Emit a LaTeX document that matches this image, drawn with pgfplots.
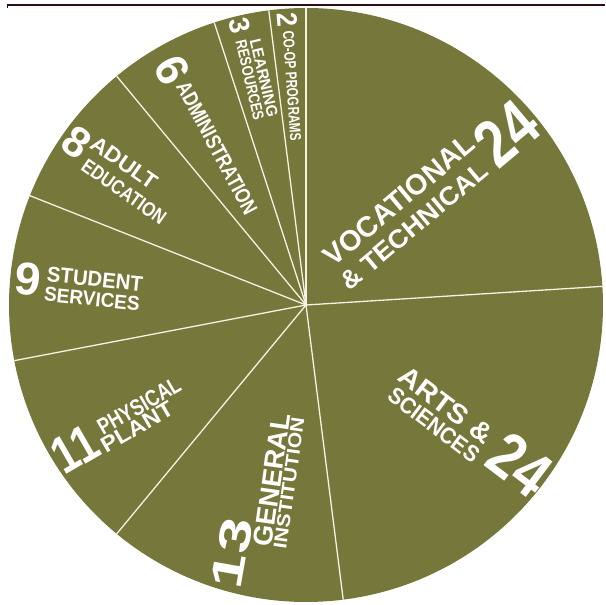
\documentclass[border=0pt]{standalone}
\usepackage{pgfplots}
\pgfplotsset{compat=1.18}
\usepackage{pgfplotstable}
\usepackage{graphicx}
\usepackage{fontspec}
\setmainfont{Liberation Sans}
\definecolor{pieolive}{HTML}{75773B}
\definecolor{sepline}{HTML}{F4F2E2}
\definecolor{topline}{HTML}{2E0E0E}
\newcommand\lbl[3]{\resizebox{#1pt}{#2pt}{\bfseries #3}}

\pgfplotstableread{
label value
Vocational 24
Arts 24
General 13
Physical 11
Student 9
Adult 8
Admin 6
Learning 3
Coop 2
}\piedata

\begin{document}
\begin{tikzpicture}
\begin{axis}[x=1pt,y=1pt,xmin=0,xmax=605,ymin=0,ymax=605,hide axis,clip=false,
  at={(0,0)},anchor=south west,scale only axis]
\def\cx{306}\def\cy{300}\def\R{297}
\pgfplotstablegetrowsof{\piedata}
\pgfmathtruncatemacro\nrows{\pgfplotsretval-1}
% wedges
\def\cum{0}
\pgfplotsforeachungrouped \i in {0,...,\nrows}{%
  \pgfplotstablegetelem{\i}{value}\of\piedata
  \pgfmathsetmacro\sa{90-3.6*\cum}%
  \pgfmathsetmacro\newcum{\cum+\pgfplotsretval}%
  \pgfmathsetmacro\ea{90-3.6*\newcum}%
  \let\cum\newcum
  \edef\temp{\noexpand\fill[pieolive] (axis cs:\cx,\cy) -- ++(\sa:\R pt) arc[start angle=\sa, end angle=\ea, radius=\R pt] -- cycle;}%
  \temp
}
% separators
\def\cum{0}
\pgfplotsforeachungrouped \i in {0,...,\nrows}{%
  \pgfplotstablegetelem{\i}{value}\of\piedata
  \pgfmathsetmacro\sa{90-3.6*\cum}%
  \pgfmathsetmacro\newcum{\cum+\pgfplotsretval}%
  \let\cum\newcum
  \edef\temp{\noexpand\draw[sepline,line width=1.3pt] (axis cs:\cx,\cy) -- ++(\sa:\R pt);}%
  \temp
}
% top rule
\draw[topline,line width=1.8pt] (axis cs:7,600) -- (axis cs:605,600);
\draw[topline,line width=0.8pt] (axis cs:7.4,601) -- (axis cs:7.4,597);
% labels
\begin{scope}[every node/.style={text=white,inner sep=0pt}]
\node[rotate=40] at (axis cs:399,405) {\lbl{188}{20}{VOCATIONAL}};
\node[rotate=40] at (axis cs:414,379) {\lbl{183}{18}{\& TECHNICAL}};
\node[rotate=40] at (axis cs:506,472) {\lbl{60}{47}{24}};
\node[rotate=-37] at (axis cs:446,200) {\lbl{110}{19}{ARTS \&}};
\node[rotate=-37] at (axis cs:434,180) {\lbl{108}{16}{SCIENCES}};
\node[rotate=-37] at (axis cs:520,140) {\lbl{60}{45}{24}};
\node[rotate=80] at (axis cs:232,52) {\lbl{70}{31}{13}};
\node[rotate=82] at (axis cs:272,125) {\lbl{134}{19}{GENERAL}};
\node[rotate=82] at (axis cs:289,122) {\lbl{132}{13}{INSTITUTION}};
\node[rotate=30] at (axis cs:75,156) {\lbl{44}{36}{11}};
\node[rotate=30] at (axis cs:139,199) {\lbl{92}{16}{PHYSICAL}};
\node[rotate=30] at (axis cs:137,178) {\lbl{80}{15}{PLANT}};
\node[rotate=-6] at (axis cs:28,326) {\lbl{26}{32}{9}};
\node[rotate=-6] at (axis cs:95,326) {\lbl{96}{15}{STUDENT}};
\node[rotate=-6] at (axis cs:92,306) {\lbl{96}{14}{SERVICES}};
\node[rotate=-35] at (axis cs:77,463) {\lbl{24}{30}{8}};
\node[rotate=-35] at (axis cs:124,442) {\lbl{76}{15}{ADULT}};
\node[rotate=-35] at (axis cs:124,413) {\lbl{98}{14}{EDUCATION}};
\node[rotate=-62] at (axis cs:172,535) {\lbl{25}{32}{6}};
\node[rotate=-62] at (axis cs:217,457) {\lbl{148}{15}{ADMINISTRATION}};
\node[rotate=-77] at (axis cs:240,579) {\lbl{15}{20}{3}};
\node[rotate=-77] at (axis cs:264,527) {\lbl{80}{11}{LEARNING}};
\node[rotate=-77] at (axis cs:250,525) {\lbl{82}{11}{RESOURCES}};
\node[rotate=-86] at (axis cs:287,585) {\lbl{14}{20}{2}};
\node[rotate=-86] at (axis cs:292,519) {\lbl{110}{11}{CO-OP PROGRAMS}};
\end{scope}
\end{axis}
\pgfresetboundingbox
\useasboundingbox (0,0) rectangle (605pt,605pt);
\end{tikzpicture}
\end{document}
